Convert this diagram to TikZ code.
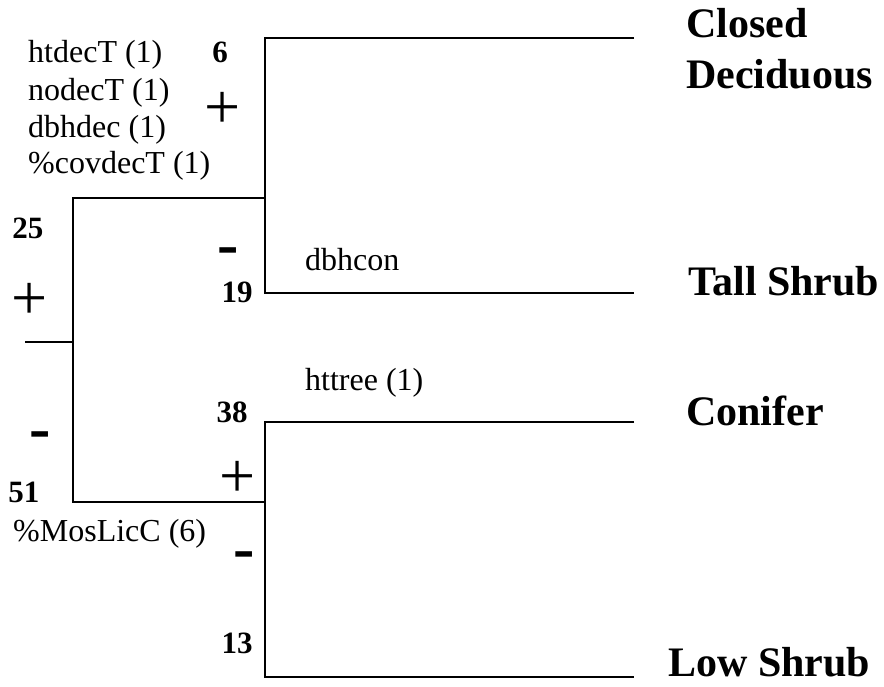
\documentclass[tikz,border=0pt]{standalone}
\usepackage{fontspec}
\setmainfont{Liberation Serif}
\begin{document}
\begin{tikzpicture}[x=1pt,y=-1pt,
  branch/.style={line width=2.2pt},
  small/.style={font=\fontsize{32}{38}\selectfont, inner sep=0pt, anchor=base west},
  num/.style={font=\bfseries\fontsize{31}{36}\selectfont, inner sep=0pt, anchor=base},
  leaf/.style={font=\bfseries\fontsize{42}{48}\selectfont, inner sep=0pt, anchor=base west},
  plussign/.style={font=\fontsize{64}{64}\selectfont, inner sep=0pt, anchor=base},
  minussign/.style={font=\bfseries\fontsize{64}{64}\selectfont, inner sep=0pt, anchor=base}]
\useasboundingbox (0,0) rectangle (884,686);
% tree skeleton
\coordinate (root) at (25,342);
\coordinate (rootJ) at (73,342);
\coordinate (nA) at (73,198);
\coordinate (nB) at (73,502);
\coordinate (nC) at (265,198);
\coordinate (nD) at (265,502);
\coordinate (c1) at (265,38);
\coordinate (c2) at (265,293);
\coordinate (c3) at (265,422);
\coordinate (c4) at (265,677);
\coordinate (e1) at (634,38);
\coordinate (e2) at (634,293);
\coordinate (e3) at (634,422);
\coordinate (e4) at (634,677);
\draw[branch] (root) -- (rootJ);
\draw[branch] (nC) -- (nA) -- (nB) -- (nD);
\draw[branch] (e1) -- (c1) -- (c2) -- (e2);
\draw[branch] (e3) -- (c3) -- (c4) -- (e4);
% leaf labels
\node[leaf] (l1a) at (686,37) {Closed};
\node[leaf] (l1b) at (686,88) {Deciduous};
\node[leaf] (l2) at (688,295) {Tall Shrub};
\node[leaf] (l3) at (686,425) {Conifer};
\node[leaf] (l4) at (668,676) {Low Shrub};
% variable labels
\node[small] (v1) at (28,62) {htdecT (1)};
\node[small] (v2) at (28,100) {nodecT (1)};
\node[small] (v3) at (28,137) {dbhdec (1)};
\node[small] (v4) at (28,173) {\%covdecT (1)};
\node[small] (v5) at (305,270) {dbhcon};
\node[small] (v6) at (305,390) {httree (1)};
\node[small] (v7) at (13,541) {\%MosLicC (6)};
% counts
\node[num] (n6) at (220,62) {6};
\node[num] (n25) at (28,238) {25};
\node[num] (n19) at (237,302) {19};
\node[num] (n38) at (232,422) {38};
\node[num] (n51) at (24,502) {51};
\node[num] (n13) at (237,653) {13};
% signs
\node[plussign] (p1) at (223,128) {+};
\node[plussign] (p2) at (30,319) {+};
\node[plussign] (p3) at (238,497) {+};
\node[minussign] (m1) at (228,265) {-};
\node[minussign] (m2) at (40,449) {-};
\node[minussign] (m3) at (244,569) {-};
\end{tikzpicture}
\end{document}
